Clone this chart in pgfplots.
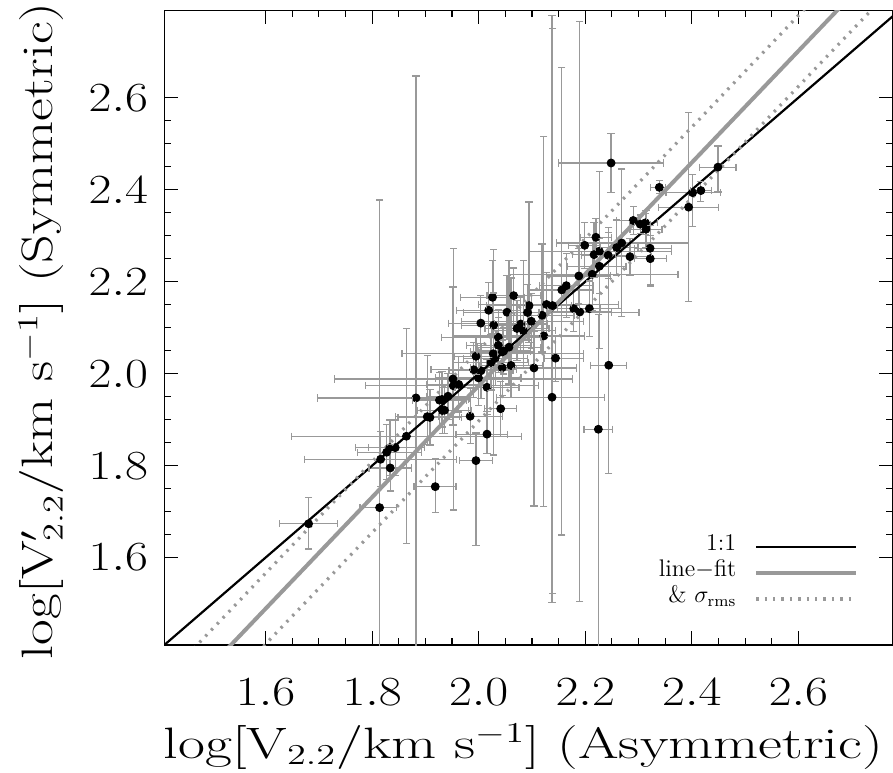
\documentclass[border=0pt]{standalone}
\usepackage{pgfplots}
\pgfplotsset{compat=1.18}
\usepackage{pgfplotstable}

\pgfplotstableread{
x y exm exp eym eyp
2.2485 2.458  0.098 0.098 0.065 0.064
2.339  2.405  0.017 0.012 0.013 0.015
2.449  2.449  0.035 0.034 0.054 0.046
2.4015 2.3935 0.050 0.052 0.074 0.040
2.417  2.398  0.020 0.020 0.024 0.020
2.394  2.362  0.057 0.056 0.206 0.206
2.290  2.333  0.031 0.025 0.030 0.030
2.303  2.325  0.020 0.020 0.020 0.020
2.313  2.328  0.020 0.022 0.025 0.020
2.314  2.314  0.030 0.030 0.040 0.040
2.220  2.2965 0.030 0.030 0.040 0.040
2.199  2.279  0.030 0.030 0.050 0.050
2.2685 2.284  0.122 0.125 0.160 0.161
2.259  2.274  0.040 0.040 0.060 0.060
2.3217 2.2726 0.030 0.040 0.080 0.050
2.2265 2.266  0.132 0.136 0.211 0.173
2.2165 2.2587 0.040 0.040 0.050 0.070
2.243  2.2574 0.050 0.050 0.050 0.050
2.284  2.2543 0.040 0.040 0.040 0.040
2.322  2.250  0.030 0.030 0.060 0.050
2.2265 2.2335 0.060 0.050 0.060 0.060
2.213  2.216  0.157 0.161 0.080 0.070
2.188  2.2124 0.060 0.060 0.060 0.060
2.1645 2.1913 0.050 0.050 0.070 0.070
2.156  2.182  0.060 0.060 0.533 0.483
2.026  2.166  0.060 0.060 0.080 0.080
2.0657 2.1696 0.050 0.050 0.060 0.060
2.0945 2.148  0.080 0.080 0.080 0.225
2.1273 2.1504 0.128 0.135 0.070 0.070
2.1386 2.148  0.050 0.050 0.626 0.603
2.0188 2.1378 0.060 0.060 0.060 0.060
2.0531 2.1335 0.050 0.060 0.060 0.080
2.0917 2.133  0.120 0.209 0.060 0.060
2.1784 2.1413 0.050 0.050 0.050 0.050
2.1897 2.134  0.060 0.060 0.630 0.631
2.2077 2.1413 0.060 0.060 0.060 0.060
2.1189 2.127  0.060 0.060 0.080 0.155
2.004  2.1098 0.060 0.080 0.060 0.060
2.0282 2.1054 0.060 0.060 0.070 0.070
2.0988 2.1139 0.131 0.098 0.060 0.060
2.079  2.108  0.050 0.050 0.060 0.060
2.0719 2.0983 0.060 0.060 0.070 0.060
2.0838 2.0935 0.060 0.060 0.080 0.152
2.0368 2.0791 0.106 0.080 0.060 0.060
2.1223 2.082  0.170 0.077 0.370 0.433
2.0368 2.0617 0.060 0.060 0.060 0.060
2.0569 2.0576 0.060 0.060 0.080 0.188
2.047  2.0493 0.050 0.050 0.050 0.050
2.0272 2.0433 0.171 0.170 0.220 0.226
2.0443 2.0472 0.060 0.060 0.060 0.060
2.1442 2.0337 0.020 0.052 0.050 0.050
2.031  2.0337 0.060 0.060 0.060 0.060
2.0231 2.0243 0.070 0.070 0.060 0.060
2.0607 2.0178 0.060 0.060 0.070 0.190
2.0441 2.013  0.060 0.060 0.060 0.060
2.1038 2.0124 0.060 0.080 0.300 0.080
1.9906 2.0085 0.080 0.080 0.060 0.060
2.0043 2.0063 0.060 0.060 0.060 0.060
2.2441 2.0183 0.035 0.034 0.236 0.300
1.9996 1.9907 0.080 0.080 0.060 0.060
1.9523 1.9737 0.164 0.160 0.270 0.298
1.9626 1.9765 0.060 0.060 0.060 0.060
2.0156 1.9704 0.060 0.060 0.060 0.060
2.1377 1.9487 0.104 0.098 0.447 0.830
2.0413 1.9237 0.030 0.030 0.060 0.060
1.984  1.9074 0.060 0.060 0.060 0.060
1.995  2.0378 0.040 0.040 0.040 0.040
1.8823 1.9472 0.185 0.100 0.600 0.700
1.9264 1.9424 0.050 0.050 0.060 0.060
1.9311 1.9439 0.050 0.050 0.060 0.060
1.9424 1.9509 0.040 0.040 0.050 0.050
1.9316 1.920  0.050 0.050 0.050 0.050
1.9358 1.9204 0.050 0.050 0.050 0.050
1.9035 1.9065 0.060 0.060 0.060 0.133
1.9085 1.9048 0.060 0.060 0.060 0.060
1.8644 1.8639 0.216 0.216 0.234 0.235
2.0156 1.8685 0.058 0.038 0.042 0.050
1.8334 1.8391 0.065 0.065 0.060 0.060
1.8434 1.8391 0.050 0.050 0.060 0.060
1.8272 1.8291 0.055 0.065 0.060 0.060
1.816  1.8139 0.143 0.143 0.060 0.060
1.9949 1.8109 0.031 0.031 0.185 0.060
1.834  1.795  0.040 0.040 0.050 0.050
1.9185 1.7543 0.040 0.039 0.057 0.060
1.8141 1.7087 0.037 0.032 0.500 0.669
1.6808 1.6737 0.054 0.054 0.055 0.057
2.2246 1.8791 0.027 0.027 0.600 0.250
1.9517 1.9885 0.223 0.224 0.100 0.200
}\data

\begin{document}
\begin{tikzpicture}
\begin{axis}[
  scale only axis,
  width=364.2pt, height=317.35pt,
  xmin=1.41, xmax=2.777, ymin=1.41, ymax=2.79,
  xtick={1.6,1.8,2.0,2.2,2.4,2.6},
  ytick={1.6,1.8,2.0,2.2,2.4,2.6},
  minor x tick num=3, minor y tick num=3,
  tick align=inside,
  major tick length=7pt, minor tick length=3.3pt,
  axis line style={line width=0.6pt},
  every tick/.style={black, line width=0.6pt},
  tick label style={font=\fontsize{19.5}{23}\selectfont},
  xticklabel={\scalebox{1.2}[1]{$\pgfmathprintnumber[fixed,fixed zerofill,precision=1]{\tick}$}},
  yticklabel={\scalebox{1.2}[1]{$\pgfmathprintnumber[fixed,fixed zerofill,precision=1]{\tick}$}},
  xticklabel style={inner sep=0pt, anchor=north, yshift=-16.5pt},
  yticklabel style={inner sep=0pt, anchor=east, xshift=-8pt},
  xlabel={\scalebox{1.33}[1]{log[V$_{2.2}$/km s$^{-1}$] (Asymmetric)}},
  ylabel={\scalebox{1.27}[1]{log[V$'_{2.2}$/km s$^{-1}$] (Symmetric)}},
  label style={font=\fontsize{22}{26}\selectfont},
  xlabel style={at={(axis description cs:0.493,-0.17803)}, anchor=base},
  ylabel style={at={(axis description cs:-0.1537,0.495)}, anchor=base},
  legend plot pos=right,
  legend cell align=right,
  legend image code/.code={\draw[#1] (0pt,0pt) -- (50pt,0pt);},
  legend style={draw=none, fill=none, inner sep=0pt, outer sep=0pt,
    at={(axis cs:2.7123,1.6515)}, anchor=north east,
    font=\fontsize{12}{14}\selectfont,
    /tikz/column sep=9pt, /tikz/row sep=0pt,
    nodes={inner sep=0pt, text height=8.5pt, text depth=4.5pt}},
  cap/.style={forget plot, only marks, mark size=1.8pt,
    mark options={draw=black!40, line width=0.6pt}},
]
% error bars (lines)
\addplot[forget plot, only marks, mark=none,
  error bars/.cd, x dir=both, x explicit, y dir=both, y explicit,
  error mark=none,
  error bar style={draw=black!40, line width=0.6pt}]
  table[x=x, y=y, x error plus=exp, x error minus=exm, y error plus=eyp, y error minus=eym]{\data};
% error bar caps
\addplot[cap, mark=-] table[x=x, y expr=\thisrow{y}+\thisrow{eyp}]{\data};
\addplot[cap, mark=-] table[x=x, y expr=\thisrow{y}-\thisrow{eym}]{\data};
\addplot[cap, mark=|] table[x expr=\thisrow{x}+\thisrow{exp}, y=y]{\data};
\addplot[cap, mark=|] table[x expr=\thisrow{x}-\thisrow{exm}, y=y]{\data};
% lines
\addplot[black, line width=1.1pt] coordinates {(1.40,1.40) (2.80,2.80)};
\addplot[black!40, line width=2pt] coordinates {(1.45,1.3069) (2.75,2.8834)};
\addplot[black!40, line width=1.6pt, dash pattern=on 1.2pt off 3pt] coordinates {(1.40,1.3233) (2.80,3.0211)};
\addplot[forget plot, black!40, line width=1.6pt, dash pattern=on 1.2pt off 3pt] coordinates {(1.40,1.1693) (2.80,2.8671)};
% points
\addplot[forget plot, only marks, mark=*, mark size=1.3pt, black] table[x=x, y=y]{\data};
\legend{1:1, line$-$fit, \& $\sigma_{\mathrm{rms}}$}
\end{axis}
\pgfresetboundingbox
\path[use as bounding box] ([xshift=-82.15pt,yshift=-63.5pt]current axis.south west) rectangle ([xshift=0.15pt,yshift=5.15pt]current axis.north east);
\end{tikzpicture}
\end{document}
